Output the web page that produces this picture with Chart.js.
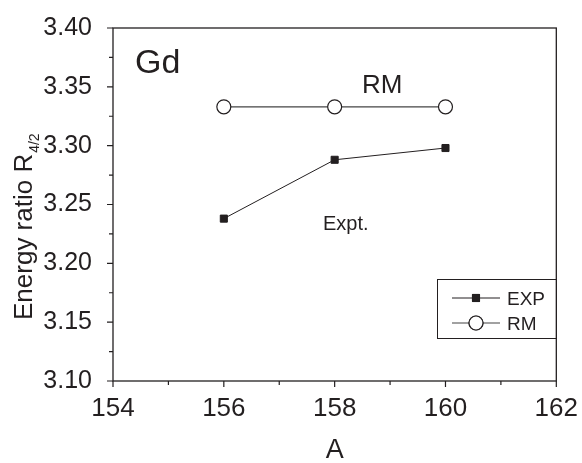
<!DOCTYPE html>
<html>
<head>
<meta charset="utf-8">
<script src="https://cdn.jsdelivr.net/npm/chart.js@4/dist/chart.umd.min.js"></script>
<style>
  html, body { margin: 0; padding: 0; background: #fff; }
  #wrap { width: 582px; height: 463px; }
</style>
</head>
<body>
<div id="wrap"><canvas id="myChart" width="582" height="463"></canvas></div>
<script>
// data
const massNumbers = [156, 158, 160];
const expValues = [3.238, 3.288, 3.298];
const rmValues = [3.333, 3.333, 3.333];
const xTicks = [154, 156, 158, 160, 162];
const yTicks = [3.10, 3.15, 3.20, 3.25, 3.30, 3.35, 3.40];

const FONT = "'Liberation Sans', Arial, sans-serif";
const INK = '#231f20';

// frame, outward major/minor ticks, y title with subscript, annotations, legend
const decor = {
  id: 'decor',
  afterDraw(chart) {
    const ctx = chart.ctx;
    const a = chart.chartArea;
    const xs = chart.scales.x, ys = chart.scales.y;
    ctx.save();
    ctx.strokeStyle = INK;
    ctx.lineWidth = 1.3;
    ctx.strokeRect(a.left, a.top, a.right - a.left, a.bottom - a.top);

    ctx.lineWidth = 1.2;
    ctx.beginPath();
    for (let v = xTicks[0]; v <= xTicks[xTicks.length - 1]; v += 1) {
      const px = xs.getPixelForValue(v);
      const len = (v % 2 === 0) ? 6 : 4;
      ctx.moveTo(px, a.bottom);
      ctx.lineTo(px, a.bottom + len);
    }
    for (let i = 0; i <= 12; i++) {
      const v = 3.10 + i * 0.025;
      const py = ys.getPixelForValue(v);
      const len = (i % 2 === 0) ? 6 : 4;
      ctx.moveTo(a.left, py);
      ctx.lineTo(a.left - len, py);
    }
    ctx.stroke();

    ctx.fillStyle = INK;
    // y axis title
    ctx.save();
    ctx.translate(32, 320);
    ctx.rotate(-Math.PI / 2);
    ctx.textAlign = 'left';
    ctx.textBaseline = 'alphabetic';
    ctx.font = '26px ' + FONT;
    const main = 'Energy ratio R';
    ctx.fillText(main, 0, 0);
    const w = ctx.measureText(main).width;
    ctx.font = '14px ' + FONT;
    ctx.fillText('4/2', w + 1, 7);
    ctx.restore();

    ctx.textAlign = 'left';
    ctx.textBaseline = 'alphabetic';
    ctx.font = '34px ' + FONT;
    ctx.fillText('Gd', 135, 73);
    ctx.font = '26px ' + FONT;
    ctx.fillText('RM', 362, 93);
    ctx.font = '20px ' + FONT;
    ctx.fillText('Expt.', 323, 230);

    // legend
    ctx.lineWidth = 1;
    ctx.strokeStyle = INK;
    ctx.strokeRect(437.5, 279.5, 119, 59);
    const rows = [
      { ds: chart.data.datasets[0], y: 298 },
      { ds: chart.data.datasets[1], y: 323 }
    ];
    rows.forEach(r => {
      ctx.strokeStyle = r.ds.borderColor;
      ctx.lineWidth = r.ds.borderWidth;
      ctx.beginPath();
      ctx.moveTo(452, r.y);
      ctx.lineTo(500, r.y);
      ctx.stroke();
      Chart.helpers.drawPoint(ctx, {
        pointStyle: r.ds.pointStyle,
        radius: r.ds.pointRadius,
        borderWidth: r.ds.pointBorderWidth,
        rotation: 0
      }, 476, r.y);
      ctx.fillStyle = r.ds.pointBackgroundColor;
      ctx.strokeStyle = r.ds.pointBorderColor;
      ctx.fill();
      ctx.stroke();
      ctx.fillStyle = INK;
      ctx.font = '19px ' + FONT;
      ctx.fillText(r.ds.label, 507, r.y + 7);
    });
    ctx.restore();
  }
};

const ctx = document.getElementById('myChart').getContext('2d');
new Chart(ctx, {
  type: 'scatter',
  data: {
    datasets: [{
      label: 'EXP',
      data: massNumbers.map((m, i) => ({ x: m, y: expValues[i] })),
      showLine: true,
      borderColor: INK,
      borderWidth: 1,
      pointStyle: 'rect',
      pointRadius: 5,
      pointBorderWidth: 1,
      pointBackgroundColor: INK,
      pointBorderColor: INK
    }, {
      label: 'RM',
      data: massNumbers.map((m, i) => ({ x: m, y: rmValues[i] })),
      showLine: true,
      borderColor: '#444',
      borderWidth: 1.2,
      pointStyle: 'circle',
      pointRadius: 7,
      pointBorderWidth: 1.2,
      pointBackgroundColor: '#fff',
      pointBorderColor: INK
    }]
  },
  options: {
    responsive: false,
    animation: false,
    layout: { padding: { left: 0, top: 17, right: 22, bottom: 0 } },
    plugins: {
      legend: { display: false },
      tooltip: { enabled: false }
    },
    scales: {
      x: {
        type: 'linear',
        min: 154,
        max: 162,
        afterFit: s => { s.height = 82; },
        afterBuildTicks: s => { s.ticks = xTicks.map(v => ({ value: v })); },
        grid: { display: false },
        border: { display: false },
        ticks: { color: INK, font: { family: FONT, size: 26 }, padding: 4 },
        title: { display: true, text: 'A', color: INK, font: { family: FONT, size: 27, lineHeight: 0.8 }, padding: { top: 0, bottom: 2 } }
      },
      y: {
        min: 3.10,
        max: 3.40,
        afterFit: s => { s.width = 113; },
        afterBuildTicks: s => { s.ticks = yTicks.map(v => ({ value: v })); },
        grid: { display: false },
        border: { display: false },
        ticks: { color: INK, font: { family: FONT, size: 25 }, padding: 13, callback: v => v.toFixed(2) }
      }
    }
  },
  plugins: [decor]
});
</script>
</body>
</html>
